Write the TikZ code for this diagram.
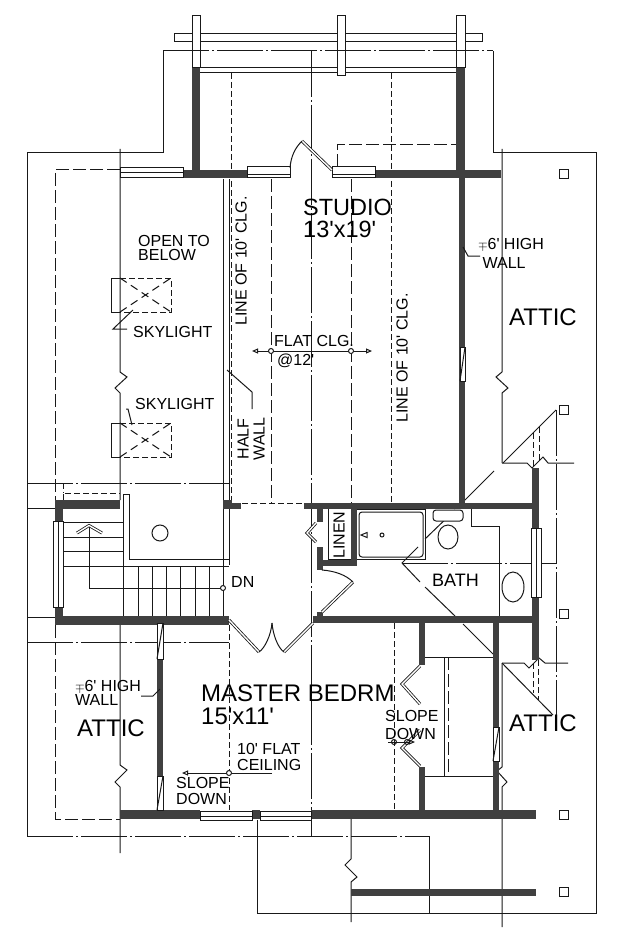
\documentclass[tikz,border=0pt]{standalone}
\usepackage{fontspec}
\newfontfamily\planfont{Liberation Sans}
\AtBeginDocument{\planfont}
\usetikzlibrary{arrows.meta}
\definecolor{wallgray}{gray}{0.25}
\newcommand{\mpsign}{\makebox[9.4pt][c]{\scalebox{0.72}{$\mp$}}}
\tikzset{
  plan/.style={line width=1pt, black!90},
  ridge/.style={plan, dash pattern=on 46pt off 3pt on 2pt off 3pt},
  longdash/.style={plan, dash pattern=on 13pt off 4pt},
  shortdash/.style={plan, dash pattern=on 6pt off 3pt},
  wall/.style={fill=wallgray, draw=none},
  glass/.style={plan, fill=white},
  leaf/.style={line width=0.8pt, double, double distance=1.4pt, black!90},
  smalltxt/.style={font=\fontsize{16}{16}\selectfont, inner sep=0pt, anchor=west, align=left},
  bigtxt/.style={font=\fontsize{24}{23}\selectfont, inner sep=0pt, anchor=west, align=left},
  opentip/.style={-{Triangle[open,length=6pt,width=5pt]}},
  pin/.style={plan, fill=white}
}
\begin{document}
\begin{tikzpicture}[x=1pt, y=-1pt]
\useasboundingbox (0,0) rectangle (625,928);

% Roof outline
\draw[plan] (163,51) -- (163,153) -- (27,153) -- (27,836);
\draw[plan] (493,51) -- (493,153) -- (596,153) -- (596,913) -- (257,913) -- (257,820);
\draw[plan] (429,836) -- (429,913);
\draw[ridge] (27,836) -- (429,836);
\draw[ridge] (311,51) -- (311,836);
\draw[ridge] (27,483) -- (229,483);
\draw[ridge] (27,642) -- (229,642);
\draw[plan] (27,508) -- (55,508);
\draw[plan] (27,617) -- (55,617);

% Ceiling lines
\draw[shortdash] (231,73) -- (231,503) -- (304,503);
\draw[longdash] (271,179) -- (271,503);
\draw[longdash] (351,179) -- (351,503);
\draw[shortdash] (391,73) -- (391,503);
\draw[shortdash] (229,625) -- (229,810);
\draw[shortdash] (394,623) -- (394,810);
\draw[longdash] (120,170) -- (55,170) -- (55,500);
\draw[longdash] (55,625) -- (55,819) -- (120,819);
\draw[longdash] (337,167) -- (337,145) -- (457,145);
\draw[shortdash] (63,500) -- (63,493) -- (120,493);
\draw[shortdash] (63,483) -- (63,493);

% Break lines
\draw[plan] (120,149) -- (120,372) -- (127,377) -- (115,388) -- (120,393) -- (120,500);
\draw[plan] (120,625) -- (120,765) -- (127,770) -- (115,782) -- (120,787) -- (120,853);
\draw[plan] (502,149) -- (502,372) -- (496,377) -- (508,388) -- (502,393) -- (502,463);
\draw[plan] (502,663) -- (502,767) -- (497,771) -- (507,782) -- (502,787) -- (502,927);
\draw[plan] (351,819) -- (351,859) -- (345,865) -- (357,877) -- (351,882) -- (351,922);
\draw[plan] (502,463) -- (527,463) -- (532,468) -- (543,457) -- (548,463) -- (574,463);
\draw[plan] (502,663) -- (524,663) -- (529,668) -- (539,658) -- (545,663) -- (568,663);

% Hips
\draw[plan] (556,410) -- (503,463);
\draw[plan] (494,471) -- (464,501);
\draw[plan] (455,510) -- (425,539);
\draw[plan] (418,547) -- (402,563) -- (420,582);
\draw[plan] (425,587) -- (455,616);
\draw[plan] (463,624) -- (493,654);
\draw[plan] (502,663) -- (553,715);
\draw[ridge] (402,563) -- (556,563);
\draw[ridge] (556,410) -- (556,717);
\draw[shortdash] (533,433) -- (533,468);
\draw[shortdash] (539,427) -- (539,460);
\draw[shortdash] (533,663) -- (533,693);
\draw[shortdash] (538,660) -- (538,700);

% Posts
\foreach \py in {170,405,609,810,887}
  \draw[pin] (559,\py) rectangle (568,\py+9);

% Beam and rafters at the top
\draw[plan] (200,68) -- (456,68);
\draw[plan] (200,73) -- (456,73);
\draw[glass] (174,33.5) rectangle (482,42);
\draw[glass] (192,16) rectangle (200,68);
\draw[glass] (337,16) rectangle (345,76);
\draw[glass] (456,16) rectangle (465,68);
\draw[ridge] (163,51) -- (493,51);

% Dark walls
\fill[wall] (192,68) rectangle (200,172);
\fill[wall] (456,68) rectangle (465,178);
\fill[wall] (459,178) rectangle (465,503);
\fill[wall] (183,170) rectangle (247,178);
\fill[wall] (375,170) rectangle (501,178);
\fill[wall] (55,500) rectangle (120,509);
\fill[wall] (55,500) rectangle (63,625);
\fill[wall] (55,616) rectangle (229,625);
\fill[wall] (223,500) rectangle (232,509);
\fill[wall] (232,503) rectangle (241,509);
\fill[wall] (304,503) rectangle (539,509);
\fill[wall] (532,468) rectangle (539,660);
\fill[wall] (313,616) rectangle (539,623);
\fill[wall] (157,625) rectangle (163,810);
\fill[wall] (120,810) rectangle (200,819);
\fill[wall] (252,810) rectangle (260,819);
\fill[wall] (311,810) rectangle (536,819);
\fill[wall] (419,623) rectangle (425,665);
\fill[wall] (419,767) rectangle (425,810);
\fill[wall] (493,623) rectangle (499,810);
\fill[wall] (351,889) rectangle (536,896);
% Linen closet walls
\fill[wall] (317,509) rectangle (323,522);
\fill[wall] (317,547) rectangle (323,570);
\fill[wall] (317,560) rectangle (357,566);
\fill[wall] (351,509) rectangle (357,566);
\fill[wall] (317,612) rectangle (323,616);

% Windows and doors in the walls
\draw[glass] (120,168) rectangle (183,178);
\draw[plan] (120,173) -- (183,173);
\draw[glass] (247,167) rectangle (290,175);
\draw[glass] (247,175) rectangle (290,178);
\draw[glass] (332,167) rectangle (375,175);
\draw[glass] (332,175) rectangle (375,178);
\draw[glass] (53,521) rectangle (63,607);
\draw[plan] (58,521) -- (58,607);
\draw[glass] (531,528) rectangle (541,597);
\draw[plan] (536,528) -- (536,597);
\draw[glass] (200,811) rectangle (252,820);
\draw[plan] (200,816) -- (252,816);
\draw[glass] (260,811) rectangle (311,820);
\draw[plan] (260,816) -- (311,816);
\foreach \wa/\wb in {623/659,776/810} {
  \draw[glass] (157,\wa) rectangle (163,\wb);
  \draw[plan] (163,\wa) -- (157,\wb);
}
\draw[glass] (460,347) rectangle (465,381);
\draw[plan] (465,347) -- (460,381);
\draw[glass] (493,727) rectangle (499,761);
\draw[plan] (499,727) -- (493,761);

% Half wall and stairs
\draw[plan] (223,179) -- (223,500);
\draw[plan] (229,179) -- (229,500);
\draw[plan] (223,509) -- (223,616);
\draw[plan] (229,509) -- (229,565);
\draw[plan] (123,494) -- (129,494) -- (129,559) -- (229,559);
\draw[plan] (123,494) -- (123,616);
\draw[plan] (63,566) -- (229,566);
\foreach \ty in {522,537,551}
  \draw[plan] (63,\ty) -- (123,\ty);
\foreach \tx in {138,152,166,180,195,209}
  \draw[plan] (\tx,566) -- (\tx,616);
\draw[plan] (223,588) -- (89,588) -- (89,525);
\draw[leaf] (77,533) -- (89,525.5) -- (102,533);
\draw[plan, fill=white] (223,588) circle (2.5);
\draw[plan] (160,533) circle (8);

% Skylights
\foreach \cy in {295,440} {
  \draw[plan] (120,\cy-17) -- (111,\cy-17) -- (111,\cy+17) -- (120,\cy+17);
  \draw[shortdash] (120,\cy-17) -- (171,\cy-17) -- (171,\cy+17) -- (120,\cy+17);
  \draw[plan, dash pattern=on 8pt off 5pt] (120,\cy-17) -- (171,\cy+17);
  \draw[plan, dash pattern=on 8pt off 5pt] (120,\cy+17) -- (171,\cy-17);
}
\draw[plan] (127,329) -- (113,329) -- (133,310);
\draw[plan] (132,425) -- (128,409) -- (126,409);

% Bath
\draw[plan] (357,509) -- (425,509) -- (425,559) -- (357,559);
\draw[plan, rounded corners=3pt] (359,512) rectangle (423,557);
\draw[plan] (382,535) circle (2);
\draw[plan] (361,535) -- (367,532.5) -- (367,537.5) -- cycle;
\draw[plan, fill=white, rounded corners=3pt] (433,510) rectangle (463,521);
\draw[plan] (448,537) ellipse (10 and 12);
\draw[plan] (471,509) -- (471,526) -- (499,526) -- (499,616);
\draw[plan] (513,587) ellipse (11 and 15);
\draw[plan] (328,509) -- (328,559) -- (351,559);

% Door swings
\draw[leaf] (302,141) -- (332,170);
\draw[plan] (290,168) .. controls (291,155) and (296,147) .. (302,141);
\draw[leaf] (322,612) -- (353,582);
\draw[plan] (322,570) .. controls (335,571) and (346,575) .. (353,582);
\draw[leaf] (316,523) -- (307,533) -- (316,542);
\draw[leaf] (229,620) -- (259,652);
\draw[leaf] (284,652) -- (313,623);
\draw[plan] (259,652) .. controls (265,648) and (271,635) .. (272,623);
\draw[plan] (284,652) .. controls (278,648) and (273,635) .. (272,623);
\draw[leaf] (420,666) -- (402,684) -- (420,704);
\draw[leaf] (420,766) -- (402,748) -- (420,730);

% Closet
\draw[plan] (425,657) -- (493,657);
\draw[plan] (425,776) -- (493,776);
\draw[plan] (444,657) -- (444,776);
\draw[longdash] (448,657) -- (448,776);

% Notes and arrows
\draw[plan, {Triangle[open,length=6pt,width=5pt]}-{Triangle[open,length=6pt,width=5pt]}] (252,351) -- (372,351);
\draw[plan, fill=white] (271,351) circle (2.5);
\draw[plan, fill=white] (351,351) circle (2.5);
\draw[plan, opentip] (272,773) -- (182,773);
\draw[plan, fill=white] (229,773) circle (2.5);
\draw[plan, opentip] (388,742) -- (415,742);
\draw[plan] (394,742) circle (2.5);
\draw[plan] (407,742) circle (2.5);
\draw[plan] (227,370) -- (252,392) -- (252,409);
\draw[plan] (463,247) -- (468,256) -- (480,256);
\draw[plan] (141,696) -- (153,696) -- (160,689);

% Labels
\node[bigtxt, font=\fontsize{23.5}{22}\selectfont] (studio) at (303,218) {STUDIO\\13'x19'};
\node[bigtxt] (bedrm) at (201,705) {MASTER BEDRM\\15'x11'};
\node[bigtxt] (atticn) at (509,317) {ATTIC};
\node[bigtxt] (attice) at (509,723) {ATTIC};
\node[bigtxt] (atticw) at (77,728) {ATTIC};
\node[smalltxt, font=\fontsize{16}{14}\selectfont] (open) at (138,248) {OPEN TO\\BELOW};
\node[smalltxt] (skyone) at (133,332) {SKYLIGHT};
\node[smalltxt] (skytwo) at (135,404) {SKYLIGHT};
\node[smalltxt, rotate=90, anchor=center] (lineone) at (241,261) {LINE OF 10' CLG.};
\node[smalltxt, rotate=90, anchor=center] (linetwo) at (402,358) {LINE OF 10' CLG.};
\node[smalltxt, anchor=center, align=center, rotate=90] (halfwall) at (251,439) {HALF\\WALL};
\node[smalltxt] (flatclg) at (274,341) {FLAT CLG.};
\node[smalltxt] (attwelve) at (277,361) {@12'};
\node[smalltxt, font=\fontsize{16}{19}\selectfont] (highe) at (478,253) {\mpsign 6' HIGH\\\ WALL};
\node[smalltxt, font=\fontsize{16}{14}\selectfont] (highw) at (75,693) {\mpsign 6' HIGH\\WALL};
\node[smalltxt] (dn) at (231,582) {DN};
\node[smalltxt, rotate=90, anchor=center] (linen) at (339,535) {LINEN};
\node[smalltxt, font=\fontsize{18}{18}\selectfont] (bath) at (432,580) {BATH};
\node[smalltxt] (flatc) at (237,757) {10' FLAT\\CEILING};
\node[smalltxt] (slopew) at (176,791) {SLOPE\\DOWN};
\node[smalltxt, font=\fontsize{16}{18}\selectfont] (slopee) at (385,725) {SLOPE\\DOWN};
\end{tikzpicture}
\end{document}
